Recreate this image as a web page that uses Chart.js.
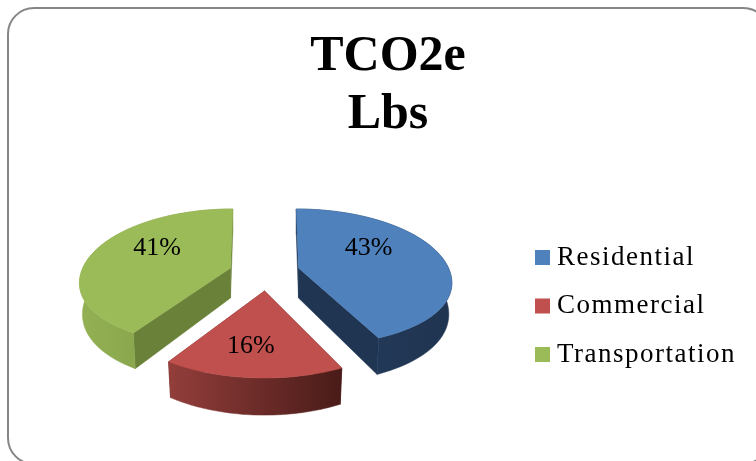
<!DOCTYPE html>
<html>
<head>
<meta charset="utf-8">
<title>TCO2e Lbs</title>
<script src="https://cdn.jsdelivr.net/npm/chart.js@4/dist/chart.umd.js"></script>
<style>
    html, body { margin: 0; padding: 0; background: #fff; }
    #wrap { width: 756px; height: 461px; overflow: hidden; }
</style>
</head>
<body>
<div id="wrap"><canvas id="emissionsChart" width="756" height="461"></canvas></div>
<script>
// Emissions share by sector
const sectors = ['Residential', 'Commercial', 'Transportation'];
const shares = [43, 16, 41];
const titleLines = ['TCO2e', 'Lbs'];

const sliceColors = ['#4f81bd', '#c0504d', '#9bbb59'];
const sliceOffsets = [34, 46, 34];
const sliceFlatten = [0.1, 0, 0.1];
const sliceWidth = [1, 1, 0.985];
const cutColors = ['#1f3552', '#6d2a28', '#6a8139'];
const wallStops = [['#243d5e', '#1f3450'], ['#933e3b', '#491b18'], ['#93b153', '#7b9644']];
const labelTurn = [-18, 3, 13.3];
const labelReach = [0.58, 0.69, 0.61];

const serif = "'Liberation Serif', serif";

// Perspective view of a flat pie: u runs right, v runs toward the viewer
const view = { cx: 264.5, cy: 268, tilt: 0.469, persp: 0.00128, depth: 30, shrink: 0.98, lean: 0.4 };

const scaleAt = v => 1 / (1 - view.persp * v);

// Each slice is projected around its own apex, then moved out by its offset
function project(slice, lu, lv, lower) {
    const s = scaleAt(lv);
    const shiftX = slice.ou * (1 + view.lean * (s - 1));
    const shiftY = view.tilt * slice.ov * scaleAt(slice.ov);
    const flat = 1 - slice.flatten * Math.max(lv, 0) / slice.r;
    const x = lu * s * slice.width * (lower ? view.shrink : 1);
    const y = view.tilt * lv * s * flat + (lower ? view.depth * s : 0);
    return { x: view.cx + shiftX + x, y: view.cy + shiftY + y };
}

function sliceFrame(arc, i) {
    // slices move out along the nearest axis
    const mid = (arc.startAngle + arc.endAngle) / 2;
    const dir = Math.round(mid / (Math.PI / 2)) * (Math.PI / 2);
    return {
        ou: Math.cos(dir) * arc.options.offset,
        ov: Math.sin(dir) * arc.options.offset,
        r: arc.outerRadius,
        flatten: sliceFlatten[i],
        width: sliceWidth[i]
    };
}

function fillPoly(ctx, pts, color) {
    ctx.beginPath();
    pts.forEach((p, i) => (i ? ctx.lineTo(p.x, p.y) : ctx.moveTo(p.x, p.y)));
    ctx.closePath();
    ctx.fillStyle = color;
    ctx.strokeStyle = color;
    ctx.lineWidth = 0.5;
    ctx.fill();
    ctx.stroke();
}

function drawSlice(ctx, arc, i) {
    const slice = sliceFrame(arc, i);
    const r = arc.outerRadius;

    // rim points around the outer edge
    const rim = [];
    const steps = 60;
    for (let k = 0; k <= steps; k++) {
        const a = arc.startAngle + (arc.endAngle - arc.startAngle) * k / steps;
        rim.push({ u: Math.cos(a) * r, v: Math.sin(a) * r });
    }
    const top = p => project(slice, p.u, p.v, false);
    const low = p => project(slice, p.u, p.v, true);
    const apex = { u: 0, v: 0 };
    const last = rim[steps];

    // cut faces first, the curved wall over them, the top face last
    fillPoly(ctx, [top(apex), top(rim[0]), low(rim[0]), low(apex)], cutColors[i]);
    fillPoly(ctx, [top(apex), top(last), low(last), low(apex)], cutColors[i]);

    const xs = rim.map(p => top(p).x);
    const grad = ctx.createLinearGradient(Math.min(...xs), 0, Math.max(...xs), 0);
    grad.addColorStop(0, wallStops[i][0]);
    grad.addColorStop(1, wallStops[i][1]);
    fillPoly(ctx, rim.map(top).concat(rim.slice().reverse().map(low)), grad);

    fillPoly(ctx, [top(apex)].concat(rim.map(top)), arc.options.backgroundColor);
}

const tiltedPie = {
    id: 'tiltedPie',
    beforeDatasetsDraw(chart) {
        const ctx = chart.ctx;
        const arcs = chart.getDatasetMeta(0).data;
        ctx.save();
        arcs.forEach((arc, i) => drawSlice(ctx, arc, i));

        // percent labels on the top faces
        ctx.font = '26px ' + serif;
        ctx.fillStyle = '#000';
        ctx.textAlign = 'center';
        ctx.textBaseline = 'middle';
        arcs.forEach((arc, i) => {
            const mid = (arc.startAngle + arc.endAngle) / 2;
            const a = mid + labelTurn[i] * Math.PI / 180;
            const reach = labelReach[i] * arc.outerRadius;
            const p = project(sliceFrame(arc, i), Math.cos(a) * reach, Math.sin(a) * reach, false);
            ctx.fillText(chart.data.datasets[0].data[i] + '%', p.x, p.y);
        });
        ctx.restore();
        return false;
    }
};

// Frame behind the chart and the legend column on the right
const frameAndLegend = {
    id: 'frameAndLegend',
    beforeDraw(chart) {
        const ctx = chart.ctx;
        ctx.save();
        ctx.fillStyle = '#fff';
        ctx.fillRect(0, 0, chart.width, chart.height);
        ctx.strokeStyle = '#868686';
        ctx.lineWidth = 2;
        ctx.beginPath();
        ctx.roundRect(8, 8, 761, 456, 26);
        ctx.stroke();
        ctx.restore();
    },
    afterDraw(chart) {
        const ctx = chart.ctx;
        ctx.save();
        ctx.textBaseline = 'middle';
        ctx.textAlign = 'left';
        ctx.font = '27px ' + serif;
        ctx.letterSpacing = '1.5px';
        chart.data.labels.forEach((label, i) => {
            const y = 257.5 + i * 48.5;
            ctx.fillStyle = sliceColors[i];
            ctx.fillRect(535, y - 7.5, 15, 15);
            ctx.fillStyle = '#000';
            ctx.fillText(label, 557, y);
        });
        ctx.restore();
    }
};

new Chart(document.getElementById('emissionsChart'), {
    type: 'pie',
    data: {
        labels: sectors,
        datasets: [{
            data: shares,
            backgroundColor: sliceColors,
            offset: sliceOffsets,
            radius: 150,
            borderWidth: 0
        }]
    },
    options: {
        responsive: false,
        animation: false,
        layout: { padding: { left: 20 } },
        plugins: {
            legend: { display: false },
            tooltip: { enabled: false },
            title: {
                display: true,
                text: titleLines,
                color: '#000',
                font: { family: serif, size: 50, weight: 'bold', lineHeight: 1.16 },
                padding: { top: 28, bottom: 0 }
            }
        }
    },
    plugins: [frameAndLegend, tiltedPie]
});
</script>
</body>
</html>
